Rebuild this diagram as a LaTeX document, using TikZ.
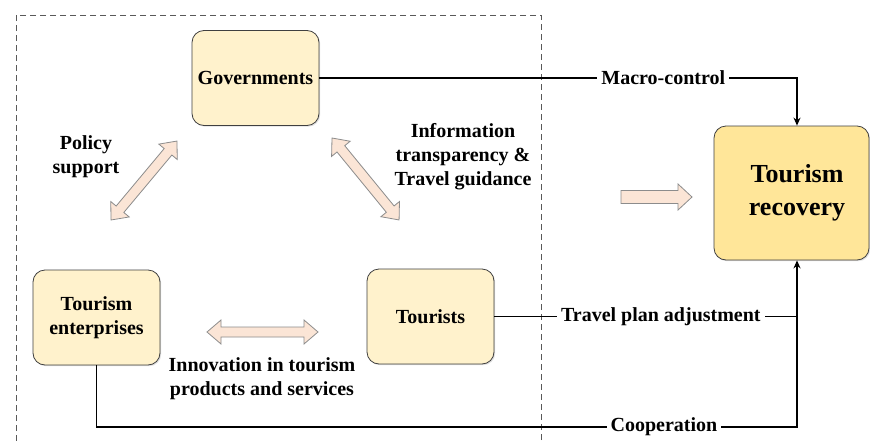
\documentclass[tikz,border=0pt]{standalone}
\usepackage{fontspec}
\setmainfont{Liberation Serif}
\usetikzlibrary{shadows,arrows.meta}
\definecolor{boxfill}{HTML}{FFF2CC}
\definecolor{recfill}{HTML}{FFE699}
\definecolor{arrfill}{HTML}{FBE5D6}
\definecolor{arrdraw}{HTML}{8C8C8C}
\newcommand\lbl{\bfseries\fontsize{20}{24}\selectfont}
\newcommand\biglbl{\bfseries\fontsize{26}{33}\selectfont}
\newcommand\mydbl[1]{\draw[barrow] (0,0) -- (14,-12) -- (14,-5) -- (#1-14,-5) -- (#1-14,-12) -- (#1,0) -- (#1-14,12) -- (#1-14,5) -- (14,5) -- (14,12) -- cycle;}
\begin{document}
\begin{tikzpicture}[x=1pt,y=-1pt,
  box/.style={draw=black!75, line width=0.8pt, fill=boxfill, rounded corners=12pt,
    minimum width=127pt, minimum height=95pt, align=center, font=\lbl,
    drop shadow={shadow xshift=1.2pt, shadow yshift=-1.2pt, opacity=0.25}},
  conn/.style={draw=black, line width=1.2pt},
  tip/.style={-{Stealth[length=8pt,width=7pt]}},
  lab/.style={fill=white, inner sep=4pt, font=\lbl, align=center},
  txt/.style={font=\lbl, align=center},
  barrow/.style={draw=arrdraw, fill=arrfill, line width=0.8pt, line join=miter}]
\useasboundingbox (0,0) rectangle (870,442);
\fill[white] (0,0) rectangle (870,442);
% dashed frame
\draw[dash pattern=on 6pt off 4pt, draw=black!65, line width=0.8pt] (16,15) rectangle (541,470);
% boxes
\node[box] (gov) at (255.5,78) {Governments};
\node[box] (ent) at (96.5,317.5) {Tourism\\enterprises};
\node[box] (tour) at (430.5,316.5) {Tourists};
\node[box, fill=recfill, minimum width=155pt, minimum height=134pt] (rec) at (791.5,193) {};
\node[font=\biglbl, align=center] (rect) at (797,193) {Tourism\\recovery};
% helper coordinates
\coordinate (rx) at (797,0);
\coordinate (cy) at (0,427);
% connectors
\draw[conn, tip] (gov.east) -- node[lab, pos=0.72] {Macro-control} (gov.east -| rx) -- (rx |- rec.north);
\draw[conn] (tour.east) -- node[lab, pos=0.55] {Travel plan adjustment} (tour.east -| rx);
\draw[conn, tip] (ent.south) -- (ent.south |- cy) -- node[lab, pos=0.81] {Cooperation} (rx |- cy) -- (rx |- rec.south);
% block arrows
\begin{scope}[shift={(207,332)}] \mydbl{111} \end{scope}
\begin{scope}[shift={(111,220)}, rotate=50.1] \mydbl{102.9} \end{scope}
\begin{scope}[shift={(332,138)}, rotate=-50.7] \mydbl{105.9} \end{scope}
\draw[barrow] (621,190.5) -- (678,190.5) -- (678,184) -- (692,197) -- (678,210) -- (678,203.5) -- (621,203.5) -- cycle;
% labels
\node[txt] (pol) at (86,157) {Policy\\support};
\node[txt] (info) at (463,157) {Information\\transparency \&\\Travel guidance};
\node[txt] (inno) at (262,379) {Innovation in tourism\\products and services};
\end{tikzpicture}
\end{document}
